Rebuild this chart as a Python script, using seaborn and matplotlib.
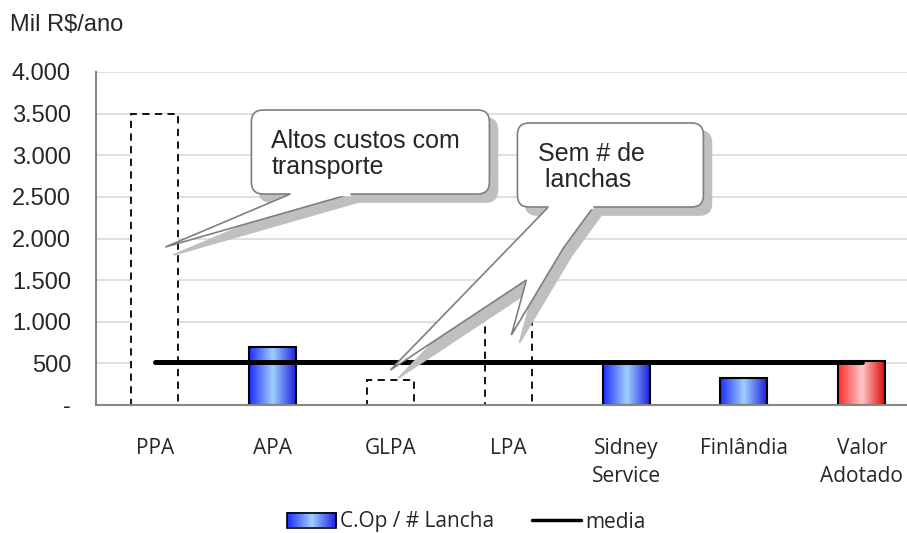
import numpy as np
import pandas as pd
import seaborn as sns
import matplotlib.pyplot as plt
from matplotlib import transforms
from matplotlib.colors import LinearSegmentedColormap
from matplotlib.patches import FancyBboxPatch, Polygon, Rectangle
from matplotlib.lines import Line2D
from matplotlib.legend_handler import HandlerBase
from matplotlib.image import BboxImage
from matplotlib.transforms import Bbox, TransformedBbox

# data
categorias = ["PPA", "APA", "GLPA", "LPA", "Sidney\nService", "Finlândia", "Valor\nAdotado"]
custo_lancha = [3500, 700, 300, 1500, 500, 320, 525]
estimado = [True, False, True, True, False, False, False]   # dashed (sem dado confiavel)
media = [515, 515, 515, 515, 515, 515, 515]
yticks = [0, 500, 1000, 1500, 2000, 2500, 3000, 3500, 4000]
ytick_labels = ["-", "500", "1.000", "1.500", "2.000", "2.500", "3.000", "3.500", "4.000"]

df = pd.DataFrame({"cat": categorias, "valor": custo_lancha})

sns.set_style("white")
plt.rcParams['font.family'] = ['Liberation Sans', 'DejaVu Sans']

blue_cmap = LinearSegmentedColormap.from_list("b", ["#1c2cff", "#9fd0ff", "#1818e0"])
red_cmap = LinearSegmentedColormap.from_list("r", ["#ff2b2b", "#ffc8c8", "#e00000"])
grad = np.linspace(0, 1, 256).reshape(1, -1)

fig = plt.figure(figsize=(9.07, 5.33), dpi=100)
ax = fig.add_axes([96 / 907, 128 / 533, 824.6 / 907, 333 / 533])

sns.barplot(data=df, x="cat", y="valor", width=0.4, color="white", ax=ax, zorder=2)

for i, bar in enumerate(ax.patches):
    x, y = bar.get_x(), bar.get_y()
    w, h = bar.get_width(), bar.get_height()
    if estimado[i]:
        bar.set_facecolor("white")
        bar.set_edgecolor("black")
        bar.set_linestyle((0, (4, 3)))
        bar.set_linewidth(1.3)
    else:
        bar.set_facecolor("none")
        bar.set_edgecolor("black")
        bar.set_linewidth(1.5)
        cmap = red_cmap if i == len(categorias) - 1 else blue_cmap
        im = ax.imshow(grad, cmap=cmap, aspect="auto", extent=[x, x + w, y, y + h],
                       zorder=1.8, interpolation="bicubic")
        im.set_clip_path(bar)

sns.lineplot(x=categorias, y=media, sort=False, color="black", lw=3.6, ax=ax,
             zorder=3, solid_capstyle="round")

ax.set_xlim(-0.5, 6.5)
ax.set_ylim(0, 4000)
ax.set_yticks(yticks)
ax.set_yticklabels(ytick_labels, fontsize=17)
ax.yaxis.grid(True, color="#d9d9d9", lw=1.2)
ax.set_axisbelow(True)
ax.set_xlabel("")
ax.set_ylabel("")

ax.set_xticks(range(len(categorias)))
ax.set_xticklabels(categorias, fontsize=15, family=["Open Sans", "DejaVu Sans"])
for t in ax.get_xticklabels():
    t.set_linespacing(1.4)
ax.tick_params(axis="x", length=0, pad=24)
ax.set_xticks(np.arange(-0.5, 7, 1), minor=True)
ax.tick_params(axis="x", which="minor", length=6, color="#868686", width=1.2, direction="out")
ax.tick_params(axis="y", length=6, color="#868686", width=1.2, direction="out", pad=12)
for s in ["top", "right"]:
    ax.spines[s].set_visible(False)
for s in ["left", "bottom"]:
    ax.spines[s].set_color("#868686")
    ax.spines[s].set_linewidth(1.5)

fig.text(10 / 907, 1 - 25 / 533, "Mil R$/ano", fontsize=17, va="center", ha="left")


# callouts (rounded box + pointer + drop shadow)
def px(xp, yp):
    return ((xp - 154.5) / 117.8, (405 - yp) * 4000 / 333)


shadow = transforms.offset_copy(ax.transData, fig=fig, x=8, y=-8, units="dots")
ASPECT = (4000 / 333) * 117.8


def callout(box, pointer, texto, text_xy):
    (x0, y0), (x1, y1) = px(box[0], box[1]), px(box[2], box[3])
    pts = [px(a, b) for a, b in pointer]
    for tr, fc, ec, z in [(shadow, "#bfbfbf", "#bfbfbf", 4), (ax.transData, "white", "#7f7f7f", 5)]:
        b = FancyBboxPatch((x0, y1), x1 - x0, y0 - y1,
                           boxstyle="round,pad=0,rounding_size=0.1", mutation_aspect=ASPECT,
                           fc=fc, ec=ec, lw=1.2, transform=tr, zorder=z, clip_on=False)
        ax.add_patch(b)
        p = Polygon(pts, closed=True, fc=fc, ec=ec, lw=1.2, transform=tr, zorder=z, clip_on=False)
        ax.add_patch(p)
    # hide the pointer base line inside the box
    base = Polygon([pts[0], pts[-1]], closed=False, ec="white", lw=2.5, zorder=5.1)
    ax.add_patch(base)
    tx, ty = px(*text_xy)
    ax.text(tx, ty, texto, fontsize=18, ha="left", va="center", linespacing=1.15, zorder=6)


callout((251, 110, 489, 194),
        [(290, 194), (165, 247), (350, 194)],
        "Altos custos com\ntransporte", (271, 154))
callout((517, 123, 703, 207),
        [(548, 207), (390, 370), (526, 280), (511, 335), (563, 248), (593, 207)],
        "Sem # de\n lanchas", (538, 167))


# legend with gradient patch
class GradientHandler(HandlerBase):
    def create_artists(self, legend, orig_handle, xdescent, ydescent, width, height, fontsize, trans):
        bb = TransformedBbox(Bbox.from_bounds(-xdescent, -ydescent, width, height), trans)
        img = BboxImage(bb, cmap=blue_cmap, interpolation="bicubic")
        img.set_data(grad)
        rect = Rectangle((-xdescent, -ydescent), width, height, fc="none", ec="black",
                         lw=1.2, transform=trans)
        return [img, rect]


h_bar = Rectangle((0, 0), 1, 1)
h_line = Line2D([], [], color="black", lw=2.5)
fig.legend([h_bar, h_line], ["C.Op / # Lancha", "media"],
           handler_map={Rectangle: GradientHandler()},
           loc="center", bbox_to_anchor=(466 / 907, 11 / 533), ncol=2, frameon=False,
           prop={"family": ["Open Sans", "DejaVu Sans"], "size": 15},
           handlelength=2.36, handleheight=0.7, handletextpad=0.2, columnspacing=1.8)

fig.savefig("out.png", dpi=100)
